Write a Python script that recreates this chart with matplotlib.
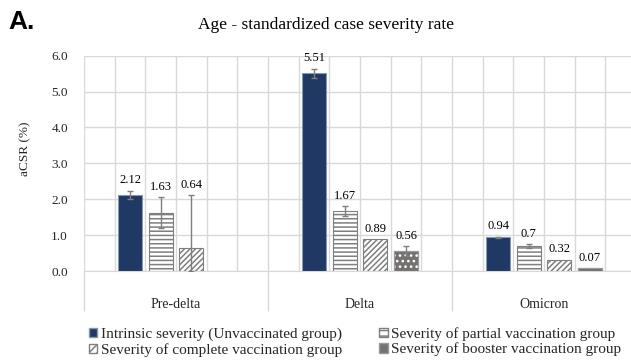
import numpy as np
import matplotlib
matplotlib.use("Agg")
import matplotlib.pyplot as plt
from matplotlib.patches import Patch
import matplotlib.transforms as mtransforms

# ---- data ----
categories = ["Pre-delta", "Delta", "Omicron"]
series_names = ["Intrinsic severity (Unvaccinated group)",
                "Severity of partial vaccination group",
                "Severity of complete vaccination group",
                "Severity of booster vaccination group"]
unvaccinated = [2.12, 5.51, 0.94]
partial = [1.63, 1.67, 0.70]
complete = [0.64, 0.89, 0.32]
booster = [np.nan, 0.56, 0.07]
err_unvaccinated = [0.12, 0.13, 0.02]
err_partial = [0.42, 0.15, 0.05]
err_complete_up = [1.48, 0.0, 0.0]
err_complete_down = [0.64, 0.0, 0.0]
err_booster = [0.0, 0.14, 0.0]
yticks = [0.0, 1.0, 2.0, 3.0, 4.0, 5.0, 6.0]

SERIF = ['Liberation Serif', 'DejaVu Serif']
plt.rcParams['font.family'] = SERIF
plt.rcParams['hatch.linewidth'] = 1.1

W, H = 631, 361
fig = plt.figure(figsize=(W / 100, H / 100), dpi=100)
ax = fig.add_axes([84 / W, (H - 271) / H, 552 / W, 215.3 / H])

grid_c = '#d9d9d9'
navy = '#203864'
gray = '#7f7f7f'
dark = '#767171'
txt_c = '#262626'

x = np.arange(len(categories))
pitch = 1 / 6
bw = 0.13
offsets = np.array([-1.5, -0.5, 0.5, 1.5]) * pitch + 0.5

vals = [unvaccinated, partial, complete, booster]
errs = [(err_unvaccinated, err_unvaccinated),
        (err_partial, err_partial),
        (err_complete_down, err_complete_up),
        (err_booster, err_booster)]

# bars
ax.bar(x + offsets[0], unvaccinated, bw, color=navy, edgecolor='#8497b0', linewidth=0.8, zorder=3)
ax.bar(x + offsets[1], partial, bw, color='white', edgecolor=gray, hatch='----', linewidth=0.8, zorder=3)
ax.bar(x + offsets[2], complete, bw, color='white', edgecolor=gray, hatch='//////', linewidth=0.8, zorder=3)
ax.bar(x + offsets[3], booster, bw, color=dark, edgecolor=dark, linewidth=0.8, zorder=3)
ax.bar(x + offsets[3], booster, bw, color='none', edgecolor='white', hatch='...', linewidth=0, zorder=3.5)
ax.bar(x + offsets[3], booster, bw, color='none', edgecolor='#9a9a9a', linewidth=0.8, zorder=3.6)

# error bars and labels
for i, (v, (lo, hi)) in enumerate(zip(vals, errs)):
    v = np.array(v, dtype=float)
    lo = np.array(lo, dtype=float)
    hi = np.array(hi, dtype=float)
    xs = x + offsets[i]
    mask = ~np.isnan(v) & ((lo > 0) | (hi > 0))
    ax.errorbar(xs[mask], v[mask], yerr=[lo[mask], hi[mask]], fmt='none',
                ecolor=gray, elinewidth=1, capsize=2.2, capthick=1, zorder=5)
    for xi, vi, hi_ in zip(xs, v, hi):
        if np.isnan(vi):
            continue
        ax.annotate(f"{vi:g}", (xi, vi + hi_), xytext=(0, 3), textcoords='offset points',
                    ha='center', va='bottom', fontsize=9, color='black', zorder=6,
                    family=SERIF)

# axes styling
ax.set_xlim(0, 3)
ax.set_ylim(0, 6)
ax.set_yticks(yticks)
ax.set_yticklabels([f"{t:.1f}" for t in yticks], family=SERIF)
ax.tick_params(axis='y', length=0, pad=11.5, labelsize=9.5, labelcolor=txt_c)
ax.set_xticks([0, 1, 2, 3])
ax.set_xticklabels([])
ax.set_xticks(np.arange(0, 3.0001, pitch), minor=True)
ax.tick_params(axis='x', which='major', length=29, color=grid_c, width=1, direction='out')
ax.tick_params(axis='x', which='minor', length=0)
ax.grid(True, which='both', axis='x', color=grid_c, linewidth=1, zorder=0)
ax.grid(True, which='major', axis='y', color=grid_c, linewidth=1, zorder=0)
ax.set_axisbelow(True)
for s in ax.spines.values():
    s.set_visible(False)
ax.spines['bottom'].set_visible(True)
ax.spines['bottom'].set_color(grid_c)

trans = mtransforms.blended_transform_factory(ax.transData, fig.transFigure)
for xi, c in zip(x, categories):
    ax.text(xi + 0.5, (H - 305) / H, c, transform=trans, ha='center', va='center',
            fontsize=10, color=txt_c, family=SERIF)

fig.text(25 / W, (H - 149) / H, "aCSR (%)", rotation=90, ha='center', va='center',
         fontsize=9.5, color=txt_c, family=SERIF)
fig.text(326 / W, (H - 29) / H, "Age - standardized case severity rate", ha='center',
         va='baseline', fontsize=12.5, color='black', family=SERIF)
fig.text(8 / W, (H - 29) / H, "A.", ha='left', va='baseline', fontsize=19,
         fontweight='bold', family='Liberation Sans', color='black')

h_unvax = Patch(facecolor=navy, edgecolor='#8497b0')
h_part = Patch(facecolor='white', edgecolor=gray, hatch='---')
h_comp = Patch(facecolor='white', edgecolor=gray, hatch='////')
h_boost = Patch(facecolor=dark, edgecolor='#9a9a9a')
# column-major fill: col1 = unvaccinated, complete ; col2 = partial, booster
leg = fig.legend([h_unvax, h_comp, h_part, h_boost],
                 [series_names[0], series_names[2], series_names[1], series_names[3]],
                 ncol=2, loc='upper left',
                 bbox_to_anchor=(89 / W, (H - 327) / H), frameon=False,
                 prop={'family': SERIF, 'size': 11},
                 handlelength=0.55, handleheight=0.55,
                 handletextpad=0.25, columnspacing=2.4, labelspacing=0.12,
                 borderpad=0, borderaxespad=0)
for t in leg.get_texts():
    t.set_color(txt_c)

fig.savefig("out.png", dpi=100)
